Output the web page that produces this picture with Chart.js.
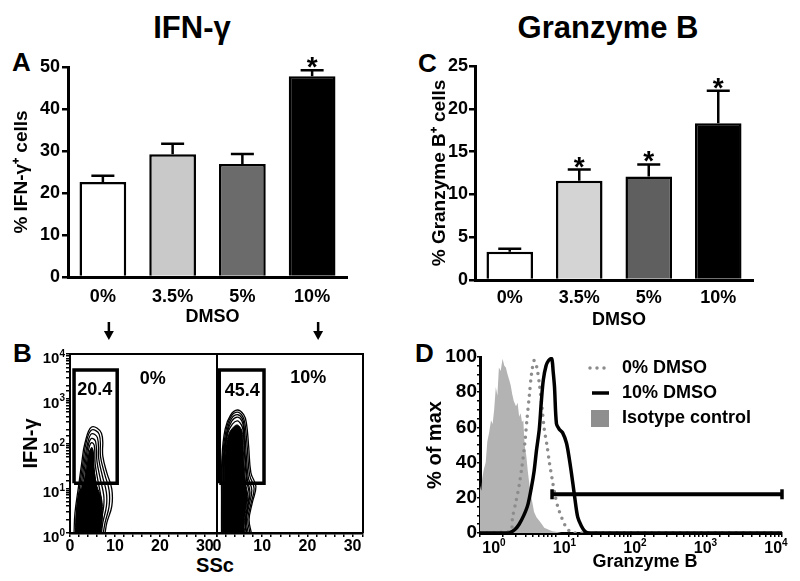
<!DOCTYPE html>
<html>
<head>
<meta charset="utf-8">
<title>IFN-γ and Granzyme B</title>
<script src="https://cdn.jsdelivr.net/npm/chart.js@4.4.1/dist/chart.umd.min.js"></script>
<style>
  body { margin: 0; width: 800px; height: 581px; position: relative; overflow: hidden; background: #fff;
         font-family: "Liberation Sans", Arial, sans-serif; font-weight: bold; color: #000; }
  canvas { position: absolute; }
  .lbl { position: absolute; line-height: 1; white-space: nowrap; }
</style>
</head>
<body>
<div class="lbl" style="left:192px;top:12px;font-size:31px;transform:translateX(-50%)">IFN-γ</div>
<div class="lbl" style="left:608px;top:12px;font-size:31px;transform:translateX(-50%)">Granzyme B</div>
<div class="lbl" style="left:12px;top:49px;font-size:26px">A</div>
<div class="lbl" style="left:418px;top:50px;font-size:26px">C</div>
<div class="lbl" style="left:13px;top:340px;font-size:26px">B</div>
<div class="lbl" style="left:415px;top:340px;font-size:26px">D</div>
<div class="lbl" style="left:215px;top:555px;font-size:20px;transform:translateX(-50%)">SSc</div>

<canvas id="chartA" width="400" height="300" style="left:0;top:45px"></canvas>
<canvas id="chartC" width="400" height="300" style="left:400px;top:45px"></canvas>
<canvas id="chartB0" width="225" height="241" style="left:0;top:340px"></canvas>
<canvas id="chartB10" width="188" height="241" style="left:212px;top:340px"></canvas>
<canvas id="chartD" width="400" height="241" style="left:400px;top:340px"></canvas>

<script>
// ---- data ----
var doses = ['0%', '3.5%', '5%', '10%'];
var doseTitle = 'DMSO';

// A: % IFN-γ+ cells (mean, SEM)
var ifnPct = [22.6, 29.2, 26.9, 47.8];
var ifnSem = [1.5, 2.5, 2.4, 1.4];
var ifnStar = [false, false, false, true];

// C: % Granzyme B+ cells
var gzbPct = [3.3, 11.6, 12.1, 18.3];
var gzbSem = [0.35, 1.3, 1.4, 3.8];
var gzbStar = [false, true, true, true];

var ifnColors = ['#ffffff', '#c9c9c9', '#6b6b6b', '#000000'];
var gzbColors = ['#ffffff', '#d4d4d4', '#5f5f5f', '#000000'];

// B: flow contours, [SSc, IFN-γ] outlines
var contours0 = [
  [[0.9,1],[1.1,2.8],[1.9,11],[2.6,36],[3.3,100],[4.8,234],[7.0,170],[7.3,52],[8.2,22],[9.3,9.6],[9.3,4],[8.2,1.7],[7.8,1]],
  [[1.3,1],[1.5,3],[2.2,12],[2.9,38],[3.6,105],[4.8,200],[6.5,160],[6.8,50],[7.7,21],[8.7,9],[8.7,4],[7.8,1.7],[7.4,1]],
  [[1.7,1],[1.9,3],[2.5,12],[3.2,40],[3.9,100],[4.8,165],[6.1,135],[6.4,45],[7.2,19],[8.1,8],[8.1,4],[7.3,1.7],[7.0,1]],
  [[2.1,1],[2.3,3],[2.8,12],[3.5,42],[4.1,95],[4.8,130],[5.7,110],[6.0,40],[6.7,17],[7.5,7],[7.5,4],[6.9,1.7],[6.6,1]],
  [[2.5,1],[2.7,3],[3.2,14],[3.8,45],[4.3,85],[4.8,105],[5.4,90],[5.6,35],[6.2,15],[6.9,6],[6.8,3],[6.4,1.5],[6.2,1]],
  [[2.9,1],[3.1,4],[3.6,18],[4.1,48],[4.8,80],[5.2,60],[5.3,28],[5.8,12],[6.3,5],[6.0,1.5],[5.8,1]],
  [[3.3,1],[3.5,5],[4.0,22],[4.6,55],[5.0,40],[5.1,20],[5.6,8],[5.5,2],[5.3,1]]
];
var core0 = [[1.2,1],[1.4,3],[2.0,8],[3.0,12],[3.8,30],[4.4,70],[5.0,75],[5.3,30],[6.0,11],[7.0,6],[7.2,2.5],[6.9,1]];
var gate0 = [[0.9,13],[0.9,4400],[10.5,4400],[10.5,13],[0.9,13]];

var contours10 = [
  [[1.0,1],[1.0,4.5],[1.1,50],[1.8,210],[3.0,430],[4.5,560],[5.9,440],[6.5,290],[7.0,88],[7.5,22],[8.6,11],[7.8,4.7],[7.1,2],[7.6,1]],
  [[1.15,1],[1.15,5],[1.25,50],[2.0,200],[3.1,400],[4.5,500],[5.7,400],[6.2,270],[6.7,80],[7.2,20],[8.2,10],[7.5,4.5],[6.8,2],[7.3,1]],
  [[1.3,1],[1.3,5],[1.45,55],[2.2,190],[3.2,360],[4.5,440],[5.6,360],[6.0,240],[6.4,70],[6.9,18],[7.7,9],[7.1,4.2],[6.5,2],[6.9,1]],
  [[1.4,1],[1.4,6],[1.6,60],[2.3,180],[3.3,320],[4.5,390],[5.5,320],[5.9,210],[6.2,60],[6.7,16],[7.3,8],[6.8,3.8],[6.3,1.8],[6.6,1]],
  [[1.45,1],[1.45,7],[1.7,60],[2.4,170],[3.4,270],[4.5,320],[5.4,260],[5.8,190],[6.1,56],[6.55,15],[7.1,7.5],[6.65,3.6],[6.2,1.7],[6.45,1]]
];
var core10 = [[1.55,1],[1.55,8],[1.8,60],[2.6,160],[3.6,230],[4.5,260],[5.3,215],[5.65,160],[5.9,50],[6.35,13],[6.8,6.5],[6.4,3.4],[6.0,1.5],[6.2,1]];
var gate10 = [[0.5,13],[0.5,4400],[10.4,4400],[10.4,13],[0.5,13]];

var gateText0 = [{ text: '20.4', x: 5.5, y: 1550 }, { text: '0%', x: 18.4, y: 2700 }];
var gateText10 = [{ text: '45.4', x: 5.6, y: 1500 }, { text: '10%', x: 20.2, y: 2900 }];
var decades = [0, 1, 2, 3, 4];

// D: histograms, x = Granzyme B intensity, y = % of max
var histLabels = ['0% DMSO', '10% DMSO', 'Isotype control'];
var histTitle = 'Granzyme B';
var isoX = [1, 1.04, 1.07, 1.12, 1.19, 1.25, 1.32, 1.4, 1.47, 1.54, 1.62, 1.7, 1.78, 1.88, 1.99, 2.1, 2.2, 2.32, 2.44, 2.55, 2.67, 2.8, 3.0, 3.15, 3.3, 3.45, 3.6, 3.75, 3.9, 4.1, 4.3, 4.5, 4.7, 5.0, 5.2, 5.6, 6.1, 6.6, 7.1, 8, 9.1, 10.5, 12, 10000];
var isoY = [27, 24, 31, 36, 40, 52, 57, 64, 62, 70, 83, 78, 94, 92, 99, 95, 94, 90, 87, 84, 79, 75, 72, 74, 66, 68, 63, 64, 50, 44, 35, 28, 22, 16, 12, 9, 7, 5, 3, 2, 1, 0.5, 0, 0];
var dmso0X = [1, 2.5, 2.7, 3.0, 3.3, 3.6, 3.9, 4.2, 4.5, 4.8, 5.2, 5.6, 6.1, 6.6, 7.1, 7.7, 8.3, 9.0, 9.7, 10.7, 12, 13.5, 15.4, 18, 10000];
var dmso0Y = [0, 1, 9, 18, 27, 38, 50, 65, 78, 90, 98, 95, 85, 72, 59, 50, 40, 31, 23, 15, 9, 4, 1, 0, 0];
var dmso10X = [1, 2.4, 2.9, 3.3, 3.8, 4.3, 4.8, 5.2, 5.6, 6.1, 6.5, 6.9, 7.5, 8.1, 8.9, 9.3, 9.7, 10.3, 11.2, 12.4, 14, 15.5, 17, 18, 19.7, 22, 24.5, 28, 10000];
var dmso10Y = [0, 0, 2, 5, 10, 16, 26, 35, 47, 59, 75, 87, 95, 98, 99, 92, 83, 62, 59, 57, 51, 40, 28, 20, 9, 4, 1, 0, 0];
var gateX = [9, 10000];
var gateY = [22, 22];

// ---- helpers ----
var FONT = '"Liberation Sans", Arial, Helvetica, sans-serif';
Chart.defaults.font.family = FONT;
Chart.defaults.font.weight = 'bold';
Chart.defaults.color = '#000';

function pts(xs, ys) { return xs.map(function (x, i) { return { x: x, y: ys[i] }; }); }
function pairs(list) { return list.map(function (p) { return { x: p[0], y: p[1] }; }); }

// "10" with a raised exponent
function drawPow(ctx, x, y, exp, size, align) {
  var big = 'bold ' + size + 'px ' + FONT, small = 'bold ' + Math.round(size * 0.65) + 'px ' + FONT;
  ctx.font = big; var bw = ctx.measureText('10').width;
  ctx.font = small; var ew = ctx.measureText(String(exp)).width;
  var left = align === 'right' ? x - bw - ew : x - (bw + ew) / 2;
  ctx.textAlign = 'left'; ctx.textBaseline = 'alphabetic';
  ctx.font = big; ctx.fillText('10', left, y);
  ctx.font = small; ctx.fillText(String(exp), left + bw, y - size * 0.42);
}

var errorBars = {
  id: 'errorBars',
  afterDatasetsDraw: function (chart, args, o) {
    var ctx = chart.ctx, a = chart.chartArea, ys = chart.scales.y, bars = chart.getDatasetMeta(0).data, vals = chart.data.datasets[0].data;
    ctx.save();
    ctx.strokeStyle = '#000'; ctx.fillStyle = '#000'; ctx.lineWidth = 2.5;
    bars.forEach(function (bar, i) {
      var top = ys.getPixelForValue(vals[i] + o.sem[i]);
      ctx.beginPath();
      ctx.moveTo(bar.x, bar.y); ctx.lineTo(bar.x, top);
      ctx.moveTo(bar.x - o.cap, top); ctx.lineTo(bar.x + o.cap, top);
      ctx.stroke();
      if (o.star[i]) {
        ctx.font = 'bold 28px ' + FONT; ctx.textAlign = 'center'; ctx.textBaseline = 'alphabetic';
        ctx.fillText('*', bar.x, top + 6);
      }
    });
    // axis title, a little right of centre as in the figure
    ctx.font = 'bold 18px ' + FONT; ctx.textAlign = 'center'; ctx.textBaseline = 'middle';
    ctx.fillText(doseTitle, (a.left + a.right) / 2 + 5, a.bottom + o.titleDy);
    // arrows pointing down to panel B
    (o.arrows || []).forEach(function (i) {
      var x = bars[i].x + 6, y0 = a.bottom + 45, y1 = a.bottom + 63;
      ctx.beginPath(); ctx.moveTo(x, y0); ctx.lineTo(x, y1 - 8); ctx.stroke();
      ctx.beginPath(); ctx.moveTo(x - 5, y1 - 9); ctx.lineTo(x + 5, y1 - 9); ctx.lineTo(x, y1); ctx.closePath(); ctx.fill();
    });
    ctx.restore();
  }
};

function barChart(id, vals, sem, star, colors, max, step, title, g) {
  return new Chart(document.getElementById(id), {
    type: 'bar',
    data: { labels: doses, datasets: [{ data: vals, backgroundColor: colors, borderColor: '#000', borderWidth: 2.5,
      borderSkipped: 'bottom', barPercentage: 0.67, categoryPercentage: 1 }] },
    options: {
      responsive: false, animation: false,
      layout: { padding: g.pad },
      plugins: { legend: { display: false }, tooltip: { enabled: false },
        errorBars: { sem: sem, star: star, cap: 11.5, arrows: g.arrows, titleDy: 40 } },
      scales: {
        x: { grid: { display: false, drawTicks: false }, border: { color: '#000', width: 3 },
             ticks: { font: { size: 18 }, padding: g.xPad },
             afterFit: function (s) { s.height = 52; } },
        y: { min: 0, max: max, ticks: { stepSize: step, font: { size: 18 }, padding: g.yPad },
             grid: { drawOnChartArea: false, color: '#000', lineWidth: 2.5, tickLength: 6 },
             border: { color: '#000', width: 3 },
             title: { display: true, text: title, font: { size: 19 }, padding: { top: g.titlePad } },
             afterFit: function (s) { s.width = g.yW; } }
      }
    },
    plugins: [errorBars]
  });
}

barChart('chartA', ifnPct, ifnSem, ifnStar, ifnColors, 50, 10, '% IFN-γ⁺ cells',
  { pad: { left: 0, top: 22, right: 53, bottom: 16 }, xPad: 9, yPad: 2, titlePad: 10, yW: 68, arrows: [0, 3] });
barChart('chartC', gzbPct, gzbSem, gzbStar, gzbColors, 25, 5, '% Granzyme B⁺ cells',
  { pad: { left: 0, top: 21, right: 47, bottom: 13 }, xPad: 7, yPad: 1, titlePad: 28, yW: 75 });

// ---- B: contour plots ----
var flowExtras = {
  id: 'flowExtras',
  afterDraw: function (chart, args, o) {
    var ctx = chart.ctx, a = chart.chartArea, xs = chart.scales.x, ys = chart.scales.y;
    ctx.save();
    ctx.strokeStyle = '#000'; ctx.lineWidth = 2;
    ctx.beginPath(); ctx.moveTo(a.left, a.top); ctx.lineTo(a.right, a.top); ctx.lineTo(a.right, a.bottom); ctx.stroke();
    ctx.fillStyle = '#000'; ctx.font = 'bold 18px ' + FONT; ctx.textAlign = 'center'; ctx.textBaseline = 'middle';
    o.texts.forEach(function (t) { ctx.fillText(t.text, xs.getPixelForValue(t.x), ys.getPixelForValue(t.y)); });
    if (o.yLabels) {
      decades.forEach(function (e) { drawPow(ctx, a.left - 5, ys.getPixelForValue(Math.pow(10, e)) + 9, e, 15, 'right'); });
    }
    ctx.restore();
  }
};

function flowChart(id, levels, core, gate, texts, g) {
  var ds = [{ data: pairs(core), borderColor: '#000', backgroundColor: '#000', borderWidth: 1, fill: 'shape', pointRadius: 0, tension: 0.4 }];
  levels.forEach(function (c) {
    ds.push({ data: pairs(c), borderColor: '#000', borderWidth: 1.3, fill: false, pointRadius: 0, tension: 0.4 });
  });
  ds.push({ data: pairs(gate), borderColor: '#000', borderWidth: 3.5, borderJoinStyle: 'miter', fill: false, pointRadius: 0, tension: 0 });
  return new Chart(document.getElementById(id), {
    type: 'line',
    data: { datasets: ds },
    options: {
      responsive: false, animation: false,
      layout: { padding: g.pad },
      plugins: { legend: { display: false }, tooltip: { enabled: false }, flowExtras: { texts: texts, yLabels: g.showY } },
      scales: {
        x: { type: 'linear', min: 0, max: g.xMax,
             ticks: { stepSize: 2, autoSkip: false, maxRotation: 0, font: { size: 16 }, padding: 0,
                      callback: function (v) { return v % 10 === 0 ? v : ''; } },
             grid: { drawOnChartArea: false, color: '#000', lineWidth: 1.5, tickLength: 4 },
             border: { color: '#000', width: 2.5 },
             afterFit: function (s) { s.height = 48; } },
        y: { type: 'logarithmic', min: 1, max: 10000, display: g.showY,
             ticks: { autoSkip: false, callback: function () { return ''; } },
             grid: { drawOnChartArea: false, color: '#000', lineWidth: 1.5, tickLength: 4 },
             border: { color: '#000', width: 2 },
             title: { display: true, text: 'IFN-γ', font: { size: 20 }, padding: { top: 19 } },
             afterFit: function (s) { s.width = g.showY ? 70 : 0; } }
      }
    },
    plugins: [flowExtras]
  });
}

flowChart('chartB0', contours0, core0, gate0, gateText0, { pad: { left: 0, top: 14, right: 8, bottom: 0 }, xMax: 32.7, showY: true });
flowChart('chartB10', contours10, core10, gate10, gateText10, { pad: { left: 5, top: 14, right: 37, bottom: 0 }, xMax: 32.3, showY: false });

// ---- D: histogram overlay ----
var histExtras = {
  id: 'histExtras',
  afterDraw: function (chart, args, o) {
    var ctx = chart.ctx, a = chart.chartArea, ds = chart.data.datasets;
    ctx.save();
    // decade labels on the log axis
    ctx.fillStyle = '#000';
    var first = a.left + 14, last = a.right - 6;
    decades.forEach(function (e, i) {
      drawPow(ctx, first + (last - first) * i / (decades.length - 1), a.bottom + 20, e, 16, 'center');
    });
    ctx.font = 'bold 18px ' + FONT; ctx.textAlign = 'center'; ctx.textBaseline = 'middle';
    ctx.fillText(histTitle, (a.left + a.right) / 2 + 14, a.bottom + 29);
    // legend
    ctx.font = 'bold 18px ' + FONT; ctx.textBaseline = 'middle'; ctx.textAlign = 'left';
    for (var i = 0; i < 3; i++) {
      var d = ds[i], x = a.left + o.left, y = a.top + o.top + i * o.gap;
      if (d.fill) {
        ctx.fillStyle = '#8f8f8f'; ctx.fillRect(x + 3, y - 8, 18, 17);
      } else {
        ctx.beginPath(); ctx.strokeStyle = d.borderColor; ctx.lineWidth = d.borderWidth;
        ctx.lineCap = d.borderCapStyle || 'butt'; ctx.setLineDash(d.borderDash || []);
        ctx.moveTo(x + (d.borderDash ? 2 : 4), y); ctx.lineTo(x + 21, y); ctx.stroke(); ctx.setLineDash([]);
      }
      ctx.fillStyle = '#000'; ctx.fillText(d.label, x + o.textOff, y);
    }
    ctx.restore();
  }
};

new Chart(document.getElementById('chartD'), {
  type: 'line',
  data: { datasets: [
    { label: histLabels[0], data: pts(dmso0X, dmso0Y), borderColor: '#8c8c8c', borderWidth: 3.5, borderDash: [0, 7],
      borderCapStyle: 'round', fill: false, pointRadius: 0, tension: 0.3, order: 2 },
    { label: histLabels[1], data: pts(dmso10X, dmso10Y), borderColor: '#000', borderWidth: 3.5, fill: false,
      pointRadius: 0, tension: 0.3, order: 1 },
    { label: histLabels[2], data: pts(isoX, isoY), borderWidth: 0, borderColor: 'rgba(0,0,0,0)', backgroundColor: '#b3b3b3',
      fill: 'origin', pointRadius: 0, tension: 0, order: 3 },
    { label: 'gate', data: pts(gateX, gateY), borderColor: '#000', borderWidth: 4, fill: false, pointStyle: 'line',
      rotation: 90, pointRadius: 5, pointBorderWidth: 3.5, pointBorderColor: '#000', clip: false, order: 0 }
  ] },
  options: {
    responsive: false, animation: false,
    layout: { padding: { left: 0, top: 17, right: 18, bottom: 8 } },
    plugins: { legend: { display: false }, tooltip: { enabled: false }, histExtras: { left: 108, top: 11, gap: 25, textOff: 142 - 108 } },
    scales: {
      x: { type: 'logarithmic', min: 1, max: 10000,
           ticks: { autoSkip: false, callback: function () { return ''; } },
           grid: { drawOnChartArea: false, color: '#000', lineWidth: 1.5, tickLength: 4 },
           border: { color: '#000', width: 3 },
           afterFit: function (s) { s.height = 40; } },
      y: { min: 0, max: 100,
           ticks: { stepSize: 5, autoSkip: false, font: { size: 19 }, padding: 0,
                    callback: function (v) { return v % 20 === 0 ? v : ''; } },
           grid: { drawOnChartArea: false, color: '#000', lineWidth: 1.5, tickLength: 3 },
           border: { color: '#000', width: 3 },
           title: { display: true, text: '% of max', font: { size: 20 }, padding: { top: 23 } },
           afterFit: function (s) { s.width = 80; } }
    }
  },
  plugins: [histExtras]
});
</script>
</body>
</html>
